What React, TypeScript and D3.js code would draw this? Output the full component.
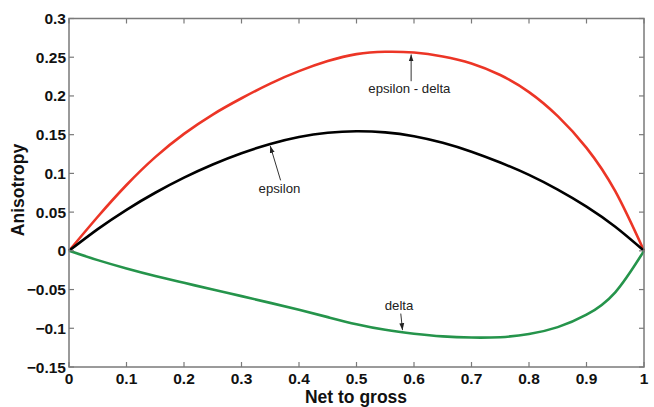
import React, { useEffect, useRef } from 'react';
import * as d3 from 'd3';

// net to gross sample positions
const netToGross = [0, 0.05, 0.1, 0.15, 0.2, 0.25, 0.3, 0.35, 0.4, 0.45, 0.5, 0.55, 0.6, 0.65, 0.7, 0.75, 0.8, 0.85, 0.9, 0.95, 1];
const epsilonDelta = [0, 0.044, 0.085, 0.121, 0.151, 0.176, 0.197, 0.216, 0.232, 0.245, 0.254, 0.257, 0.256, 0.251, 0.242, 0.227, 0.205, 0.174, 0.133, 0.077, 0];
const epsilon = [0, 0.028, 0.053, 0.075, 0.0945, 0.1115, 0.126, 0.138, 0.147, 0.1525, 0.1545, 0.153, 0.148, 0.1395, 0.128, 0.114, 0.098, 0.079, 0.057, 0.031, 0];
const delta = [0, -0.012, -0.0228, -0.0325, -0.0413, -0.05, -0.0585, -0.0672, -0.0762, -0.0856, -0.0948, -0.102, -0.107, -0.1105, -0.112, -0.1115, -0.1075, -0.0985, -0.0825, -0.0535, 0];

const xTicks = [0, 0.1, 0.2, 0.3, 0.4, 0.5, 0.6, 0.7, 0.8, 0.9, 1];
const yTicks = [-0.15, -0.1, -0.05, 0, 0.05, 0.1, 0.15, 0.2, 0.25, 0.3];

const series = [
  { name: 'epsilon - delta', values: epsilonDelta, color: '#ec3526' },
  { name: 'epsilon', values: epsilon, color: '#000000' },
  { name: 'delta', values: delta, color: '#25944b' },
];

// text position, arrow tail and the x where the arrow meets its curve
const annotations = [
  { text: 'epsilon - delta', lx: 0.592, ly: 0.204, tx: 0.595, ty: 0.219, ax: 0.595, curve: epsilonDelta },
  { text: 'epsilon', lx: 0.366, ly: 0.075, tx: 0.368, ty: 0.091, ax: 0.35, curve: epsilon },
  { text: 'delta', lx: 0.574, ly: -0.076, tx: 0.577, ty: -0.081, ax: 0.58, curve: delta },
];

const W = 654;
const H = 407;

export default function App() {
  const svgRef = useRef<SVGSVGElement>(null);

  useEffect(() => {
    const svg = d3.select(svgRef.current);
    svg.selectAll('*').remove();

    const left = 69, right = 644, top = 18.5, bottom = 367;
    const x = d3.scaleLinear().domain([0, 1]).range([left, right]);
    const y = d3.scaleLinear().domain([-0.15, 0.3]).range([bottom, top]);
    const axisColor = '#7a7a7a';
    const font = 'Liberation Sans, Arial, Helvetica, sans-serif';

    svg.append('defs').append('marker')
      .attr('id', 'arrowhead')
      .attr('viewBox', '0 0 10 10')
      .attr('refX', 10).attr('refY', 5)
      .attr('markerWidth', 7).attr('markerHeight', 7)
      .attr('orient', 'auto')
      .append('path')
      .attr('d', 'M0,1.5 L10,5 L0,8.5 Z')
      .attr('fill', '#222');

    // curves
    const line = d3.line<number>()
      .x((_, i) => x(netToGross[i]))
      .y(d => y(d))
      .curve(d3.curveNatural);

    series.forEach(s => {
      svg.append('path')
        .datum(s.values)
        .attr('fill', 'none')
        .attr('stroke', s.color)
        .attr('stroke-width', 2.6)
        .attr('stroke-linejoin', 'round')
        .attr('d', line);
    });

    // box
    svg.append('rect')
      .attr('x', left).attr('y', top)
      .attr('width', right - left).attr('height', bottom - top)
      .attr('fill', 'none')
      .attr('stroke', axisColor)
      .attr('stroke-width', 1.5);

    // ticks inward on all four sides
    const tl = 5;
    xTicks.forEach(t => {
      svg.append('line').attr('x1', x(t)).attr('x2', x(t)).attr('y1', bottom).attr('y2', bottom - tl)
        .attr('stroke', axisColor).attr('stroke-width', 1.2);
      svg.append('line').attr('x1', x(t)).attr('x2', x(t)).attr('y1', top).attr('y2', top + tl)
        .attr('stroke', axisColor).attr('stroke-width', 1.2);
      svg.append('text')
        .attr('x', x(t)).attr('y', bottom + 17)
        .attr('text-anchor', 'middle')
        .attr('font-family', font).attr('font-size', 15.5).attr('font-weight', 'bold')
        .attr('fill', '#111')
        .text(d3.format('~g')(t));
    });
    yTicks.forEach(t => {
      svg.append('line').attr('x1', left).attr('x2', left + tl).attr('y1', y(t)).attr('y2', y(t))
        .attr('stroke', axisColor).attr('stroke-width', 1.2);
      svg.append('line').attr('x1', right).attr('x2', right - tl).attr('y1', y(t)).attr('y2', y(t))
        .attr('stroke', axisColor).attr('stroke-width', 1.2);
      svg.append('text')
        .attr('x', left - 3).attr('y', y(t) + 5.5)
        .attr('text-anchor', 'end')
        .attr('font-family', font).attr('font-size', 15.5).attr('font-weight', 'bold')
        .attr('fill', '#111')
        .text(d3.format('~g')(t));
    });

    // axis titles
    svg.append('text')
      .attr('x', 356).attr('y', 403)
      .attr('text-anchor', 'middle')
      .attr('font-family', font).attr('font-size', 17.5).attr('font-weight', 'bold')
      .attr('fill', '#111')
      .text('Net to gross');
    svg.append('text')
      .attr('transform', 'translate(24,190) rotate(-90)')
      .attr('text-anchor', 'middle')
      .attr('font-family', font).attr('font-size', 17.5).attr('font-weight', 'bold')
      .attr('fill', '#111')
      .text('Anisotropy');

    // annotations with arrows
    annotations.forEach(a => {
      const target = d3.scaleLinear().domain(netToGross).range(a.curve)(a.ax);
      svg.append('line')
        .attr('x1', x(a.tx))
        .attr('y1', y(a.ty))
        .attr('x2', x(a.ax))
        .attr('y2', y(target) + (a.ty > target ? -2 : 2))
        .attr('stroke', '#333')
        .attr('stroke-width', 1)
        .attr('marker-end', 'url(#arrowhead)');
      svg.append('text')
        .attr('x', x(a.lx)).attr('y', y(a.ly))
        .attr('text-anchor', 'middle')
        .attr('font-family', font).attr('font-size', 13.2)
        .attr('fill', '#222')
        .text(a.text);
    });
  }, []);

  return (
    <svg ref={svgRef} width={W} height={H}
      style={{ position: 'absolute', left: 0, top: 0, background: '#fff' }} />
  );
}
